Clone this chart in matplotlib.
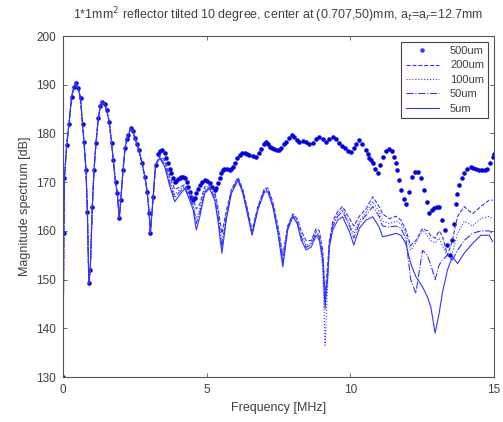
import matplotlib.pyplot as plt
import numpy as np

# shared low-frequency part (all reflector sizes overlap here)
f_common = [0.0, 0.03, 0.05, 0.13, 0.21, 0.30, 0.38, 0.45, 0.53, 0.61, 0.68, 0.73, 0.80, 0.85, 0.90, 0.95,
            1.02, 1.08, 1.15, 1.23, 1.30, 1.37, 1.45, 1.52, 1.61, 1.69, 1.75, 1.83, 1.89, 1.96, 2.01, 2.09,
            2.16, 2.22, 2.27, 2.36, 2.43, 2.50, 2.57, 2.64, 2.75, 2.85, 2.93, 3.00, 3.04, 3.14, 3.22]
db_common = [130.0, 159.5, 170.8, 177.6, 182.0, 187.5, 189.5, 190.3, 189.3, 187.2, 182.0, 178.3, 172.5, 163.9, 149.3, 152.0,
             164.9, 172.5, 178.0, 183.2, 185.6, 186.5, 186.0, 184.8, 182.4, 178.0, 174.5, 170.0, 167.7, 162.6, 166.3, 172.5,
             177.0, 178.8, 179.7, 181.1, 180.5, 179.0, 177.9, 176.6, 173.9, 171.1, 168.0, 163.6, 159.5, 167.0, 173.5]

# 500um
f_500 = [3.30, 3.37, 3.45, 3.54, 3.60, 3.66, 3.72, 3.77, 3.83, 3.89, 3.95, 4.00, 4.06, 4.12, 4.18,
         4.24, 4.30, 4.36, 4.41, 4.47, 4.53, 4.58, 4.64, 4.70, 4.76, 4.84, 4.93, 5.01, 5.10, 5.19,
         5.28, 5.33, 5.39, 5.45, 5.51, 5.56, 5.62, 5.71, 5.80, 5.86, 5.91, 5.99, 6.07, 6.15, 6.24,
         6.32, 6.40, 6.49, 6.60, 6.72, 6.81, 6.90, 6.99, 7.07, 7.13, 7.19, 7.27, 7.35, 7.44, 7.53,
         7.60, 7.68, 7.76, 7.86, 7.97, 8.05, 8.14, 8.23, 8.34, 8.46, 8.57, 8.69, 8.80, 8.92, 9.04,
         9.16, 9.27, 9.39, 9.50, 9.62, 9.71, 9.80, 9.91, 10.02, 10.11, 10.20, 10.31, 10.42, 10.54,
         10.60, 10.66, 10.72, 10.78, 10.86, 10.95, 11.03, 11.12, 11.23, 11.35, 11.44, 11.53, 11.59,
         11.64, 11.70, 11.76, 11.85, 11.93, 12.05, 12.16, 12.25, 12.34, 12.45, 12.57, 12.66, 12.74,
         12.83, 12.92, 13.00, 13.09, 13.20, 13.28, 13.35, 13.46, 13.55, 13.61, 13.67, 13.72, 13.78,
         13.87, 13.96, 14.07, 14.19, 14.27, 14.36, 14.48, 14.58, 14.68, 14.77, 14.86, 14.95, 15.0]
db_500 = [175.8, 176.4, 176.6, 176.0, 175.0, 173.9, 172.8, 171.9, 170.8, 170.1, 170.3, 170.6, 170.8, 171.1, 171.1,
          170.8, 170.1, 169.0, 168.0, 167.0, 166.3, 166.8, 167.8, 168.6, 169.4, 170.0, 170.4, 170.3, 169.8, 169.0,
          168.4, 168.9, 169.8, 170.9, 171.9, 172.5, 172.8, 172.7, 172.5, 172.8, 173.2, 174.0, 174.9, 175.6, 175.9,
          175.9, 175.8, 175.6, 175.3, 175.2, 175.9, 176.9, 177.8, 178.3, 177.9, 177.3, 177.0, 176.8, 176.6, 176.6,
          177.1, 177.8, 178.3, 179.1, 179.7, 179.3, 178.7, 178.3, 178.5, 178.3, 177.9, 178.0, 178.8, 179.3, 178.8,
          178.3, 178.8, 179.3, 178.8, 178.0, 177.5, 177.0, 176.5, 176.2, 177.0, 177.8, 178.6, 177.8, 176.6,
          175.8, 175.0, 174.5, 173.9, 172.7, 171.8, 173.5, 175.2, 176.3, 176.9, 176.3, 175.2, 174.0,
          172.5, 170.5, 168.4, 166.5, 165.6, 168.0, 171.1, 172.0, 172.1, 170.8, 168.4, 166.0, 163.6,
          164.2, 164.6, 164.9, 165.0, 162.2, 160.2, 157.1, 155.0, 158.1, 161.5, 165.6, 167.5, 169.4,
          170.8, 171.8, 172.7, 173.2, 173.0, 172.7, 172.5, 172.4, 172.5, 172.8, 174.0, 175.2, 175.8]

# smaller reflectors, common frequency grid above 3.3 MHz
f_tail = [3.37, 3.54, 3.72, 3.89, 4.06, 4.24, 4.41, 4.53, 4.64, 4.76,
          4.93, 5.10, 5.28, 5.39, 5.53, 5.68, 5.86, 6.09, 6.26, 6.44,
          6.58, 6.78, 7.01, 7.13, 7.30, 7.48, 7.65, 7.82, 8.00, 8.15,
          8.29, 8.46, 8.64, 8.81, 8.92, 9.04, 9.12, 9.21, 9.27, 9.39,
          9.56, 9.73, 9.97, 10.12, 10.31, 10.54, 10.78, 11.00, 11.12, 11.35,
          11.59, 11.76, 11.93, 12.10, 12.28, 12.51, 12.68, 12.80, 12.95, 13.09,
          13.20, 13.38, 13.55, 13.73, 13.96, 14.25, 14.54, 14.83, 14.95]
db_200 = [175.5, 174.5, 171.0, 168.5, 169.0, 169.5, 168.0, 166.5, 164.5, 165.5,
          169.0, 169.5, 168.0, 165.0, 159.5, 164.0, 168.5, 171.0, 168.5, 164.0,
          160.0, 165.0, 168.7, 168.8, 166.0, 161.0, 155.0, 161.0, 163.5, 162.5,
          160.0, 158.0, 158.0, 160.5, 160.0, 156.0, 147.0, 153.0, 158.0, 162.0,
          164.0, 165.0, 162.5, 161.0, 163.0, 164.5, 167.0, 165.0, 163.5, 162.5,
          163.0, 162.2, 160.2, 157.0, 158.0, 160.5, 160.0, 159.0, 158.5, 160.0,
          159.0, 155.0, 158.0, 163.0, 165.0, 163.5, 165.0, 166.3, 166.3]
db_100 = [175.2, 174.0, 170.3, 167.5, 168.5, 169.2, 167.3, 165.5, 162.5, 164.5,
          168.5, 169.2, 167.3, 164.0, 157.5, 163.2, 168.2, 170.8, 168.2, 163.5,
          159.5, 164.8, 168.5, 168.5, 165.5, 160.3, 154.0, 160.8, 163.3, 162.0,
          159.2, 157.0, 157.5, 160.0, 159.0, 152.0, 136.5, 149.0, 157.0, 161.3,
          163.5, 164.5, 161.5, 159.5, 162.0, 163.8, 166.0, 164.0, 162.0, 161.5,
          162.0, 161.5, 159.5, 156.0, 157.5, 160.2, 159.0, 158.0, 157.5, 158.5,
          157.0, 154.7, 155.5, 159.5, 162.0, 161.0, 162.5, 163.0, 162.5]
db_50 = [175.0, 173.6, 169.6, 166.8, 168.0, 169.0, 166.8, 165.0, 161.5, 163.8,
         168.0, 169.0, 166.8, 163.2, 156.5, 162.8, 168.0, 170.6, 168.0, 163.2,
         159.3, 164.5, 168.3, 168.3, 165.2, 160.0, 153.5, 160.5, 163.1, 161.8,
         158.7, 156.6, 157.2, 159.7, 158.7, 155.0, 145.5, 151.0, 157.5, 161.0,
         163.0, 164.0, 161.0, 158.5, 161.5, 163.2, 165.0, 163.0, 161.0, 160.8,
         161.0, 160.5, 158.5, 150.0, 147.2, 156.0, 155.0, 153.0, 150.0, 153.0,
         154.0, 155.0, 154.0, 156.0, 158.0, 159.5, 160.0, 160.0, 159.5]
db_5 = [174.9, 173.2, 169.1, 166.0, 167.4, 168.7, 166.3, 164.3, 160.2, 162.9,
        167.7, 168.7, 166.3, 162.2, 155.4, 162.2, 167.7, 170.4, 167.7, 162.9,
        159.1, 164.3, 168.0, 168.0, 165.0, 159.5, 152.6, 160.2, 162.9, 161.5,
        158.1, 156.1, 156.7, 159.1, 158.1, 154.0, 144.0, 150.6, 156.7, 160.2,
        162.2, 162.9, 159.8, 157.1, 160.5, 162.2, 162.9, 160.8, 158.8, 159.1,
        159.5, 159.1, 157.4, 153.3, 150.6, 148.5, 146.5, 144.4, 139.0, 143.1,
        147.2, 152.0, 154.7, 153.3, 155.4, 157.4, 159.1, 159.1, 157.8]

plt.rcParams['font.family'] = ['Liberation Sans', 'DejaVu Sans']
txt = '#404040'

fig = plt.figure(figsize=(5.03, 4.22), dpi=100)
ax = fig.add_axes([0.1252, 0.1066, 0.857, 0.808])

blue = '#3333ff'
ax.plot(f_common + f_500, db_common + db_500, linestyle='none', marker='.',
        ms=4.5, color='#0000e6', label='500um')
ax.plot(f_common + f_tail, db_common + db_200, '--', color=blue, lw=0.8, label='200um')
ax.plot(f_common + f_tail, db_common + db_100, ':', color=blue, lw=0.8, label='100um')
ax.plot(f_common + f_tail, db_common + db_50, '-.', color=blue, lw=0.8, label='50um')
ax.plot(f_common + f_tail, db_common + db_5, '-', color=blue, lw=0.8, label='5um')

ax.set_xlim(0, 15)
ax.set_ylim(130, 200)
ax.set_xticks([0, 5, 10, 15])
ax.set_yticks(np.arange(130, 201, 10))
ax.tick_params(direction='in', top=True, right=True, length=3, width=0.6, pad=5,
               labelsize=8.5, labelcolor=txt, colors='#555555')
for s in ax.spines.values():
    s.set_color('#555555')
    s.set_linewidth(0.8)

ax.set_title('1*1mm$^2$ reflector tilted 10 degree, center at (0.707,50)mm, a$_t$=a$_r$=12.7mm',
             fontsize=9, color=txt, pad=12)
ax.set_xlabel('Frequency [MHz]', fontsize=9, color=txt)
ax.set_ylabel('Magnitude spectrum [dB]', fontsize=9, color=txt)

leg = ax.legend(loc='upper right', fontsize=8, fancybox=False, edgecolor='#444444',
                framealpha=1, handlelength=3.0, handletextpad=1.0, borderaxespad=0.5,
                labelspacing=0.4, borderpad=0.4)
for t in leg.get_texts():
    t.set_color(txt)
for h in leg.get_lines():
    h.set_color('#3333ff')
leg.get_frame().set_linewidth(0.8)

fig.savefig('out.png', dpi=100)
